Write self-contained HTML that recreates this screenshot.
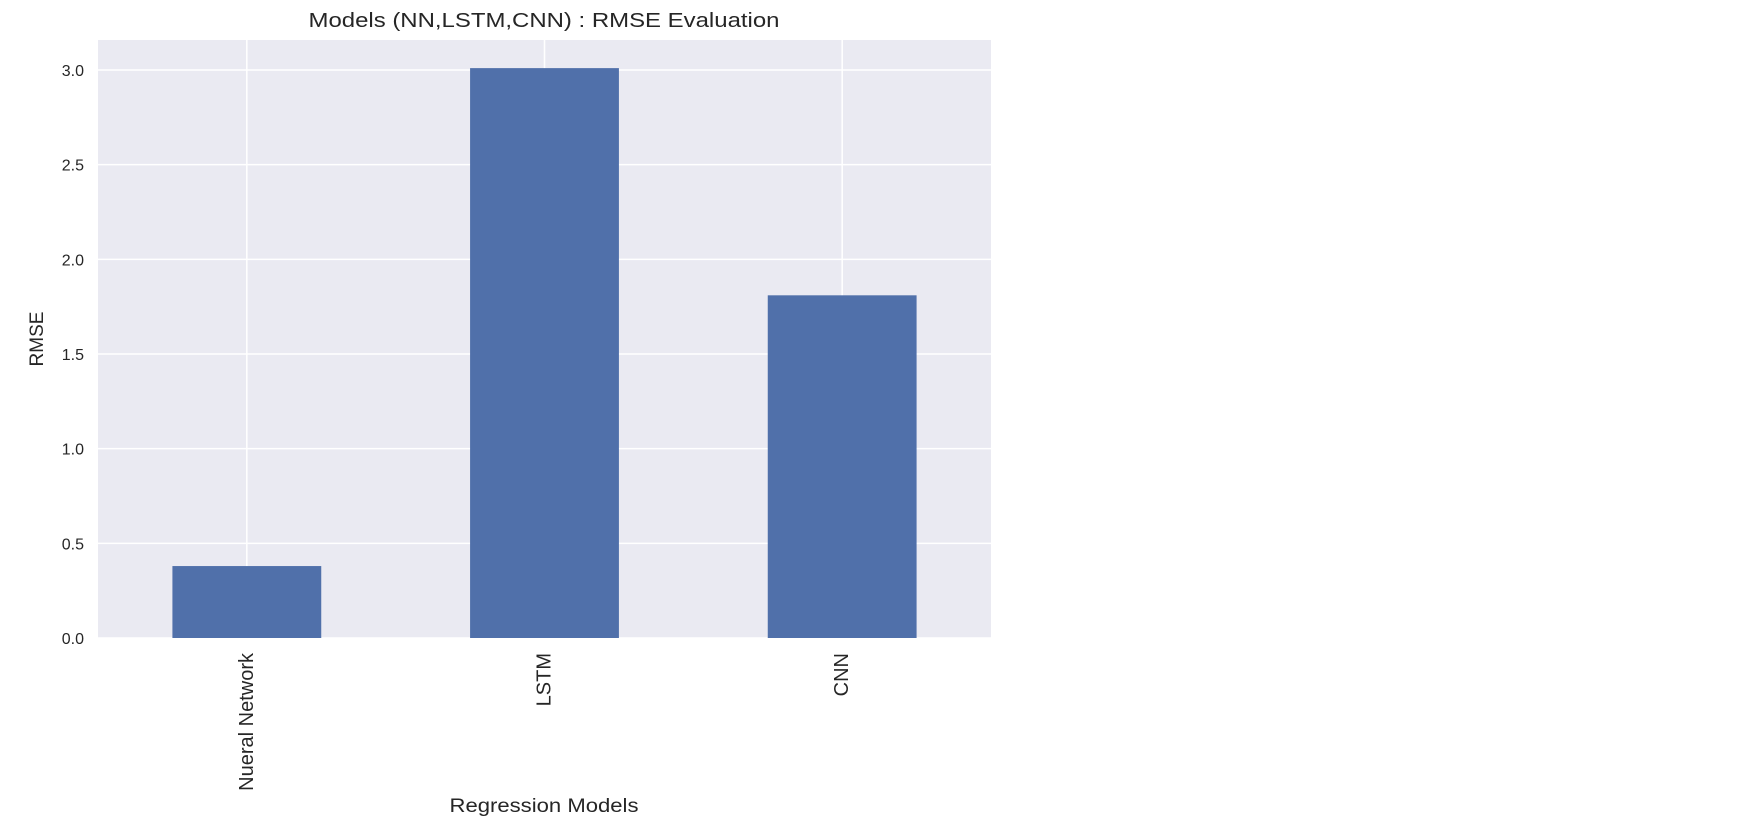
<!DOCTYPE html>
<html><head><meta charset="utf-8"><style>body{margin:0;background:#fff}svg{display:block}</style></head>
<body>
<svg id="chart" width="1742" height="826" xmlns="http://www.w3.org/2000/svg" font-family="Liberation Sans, sans-serif">
<text x="544" y="27" text-anchor="middle" font-size="20" fill="#262626" textLength="471" lengthAdjust="spacingAndGlyphs">Models (NN,LSTM,CNN) : RMSE Evaluation</text>
<text transform="translate(43,339) rotate(-90)" text-anchor="middle" font-size="19" fill="#262626">RMSE</text>
<text x="544" y="812" text-anchor="middle" font-size="19" fill="#262626" textLength="189" lengthAdjust="spacingAndGlyphs">Regression Models</text>
<g id="plot"></g>
</svg>
<script>
const categories = ["Nueral Network", "LSTM", "CNN"];
const values = [0.38, 3.01, 1.81];
const yTicks = [0, 0.5, 1.0, 1.5, 2.0, 2.5, 3.0];
const yTickLabels = ["0.0","0.5","1.0","1.5","2.0","2.5","3.0"];

const L=98,R=991,T=40,B=638,yMax=(638-40)/189.33;
const ns="http://www.w3.org/2000/svg";
const g=document.getElementById('plot');
const y=v=>B-(v/yMax)*(B-T);
const bw=(R-L)/categories.length;
const x=i=>L+bw*(i+0.5);
function mk(t,a){const e=document.createElementNS(ns,t);for(const k in a)e.setAttribute(k,a[k]);g.appendChild(e);return e;}
const bg=mk('rect',{x:L,y:T,width:R-L,height:B-T,fill:'#eaeaf2'});


yTicks.forEach((v,i)=>{
  const ln=mk('line',{x1:L,x2:R,y1:y(v),y2:y(v),stroke:'#fff','stroke-width':1.5});
  
  
  const t=mk('text',{x:L-14,y:y(v)+6,'text-anchor':'end','font-size':16,fill:'#262626'});
  t.textContent=yTickLabels[i];
  
  
});
categories.forEach((c,i)=>{
  const ln=mk('line',{x1:x(i),x2:x(i),y1:T,y2:B,stroke:'#fff','stroke-width':1.5});
  
  
});
categories.forEach((c,i)=>{
  const r=mk('rect',{x:x(i)-bw*0.25,y:y(values[i]),width:bw*0.5,height:B-y(values[i]),fill:'#5070aa'});
  
  
  const t=mk('text',{transform:`translate(${x(i)+6},653) rotate(-90)`,'text-anchor':'end','font-size':20,fill:'#262626'});
  t.textContent=c;
  
  
});
</script>
</body></html>
